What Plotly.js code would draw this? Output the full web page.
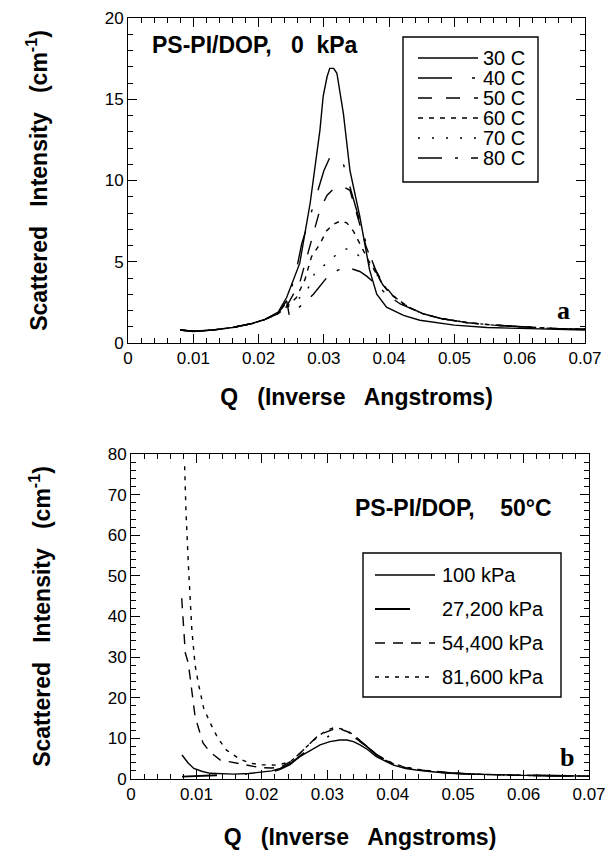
<!DOCTYPE html>
<html>
<head>
<meta charset="utf-8">
<script src="https://cdn.plot.ly/plotly-3.0.1.min.js"></script>
<style>html,body{margin:0;padding:0;background:#fff;}#chart{width:608px;height:850px;}</style>
</head>
<body>
<div id="chart"></div>
<script>
// ---------- Panel a: PS-PI/DOP, 0 kPa ----------
const q30 = [0.008,0.010,0.013,0.016,0.019,0.021,0.023,0.0243,0.0263,0.0279,0.0294,0.0299,0.0305,0.0309,0.0315,0.0320,0.033,0.034,0.0355,0.037,0.0381,0.0396,0.0422,0.0447,0.050,0.055,0.060,0.065,0.070];
const i30 = [0.8,0.7,0.8,0.95,1.2,1.45,1.9,2.8,4.9,8.6,13.1,15.2,16.4,16.9,16.9,16.6,14.1,10.6,7.8,4.5,3.0,2.2,1.7,1.4,1.1,0.95,0.9,0.85,0.8];

const q40 = [0.008,0.010,0.013,0.016,0.019,0.021,0.023,0.0245,0.0258,0.0266,0.0279,0.0291,0.0300,0.0309,0.0318,0.033,0.0345,0.0355,0.0368,0.038,0.039,0.0406,0.043,0.0452,0.048,0.052,0.056,0.060,0.065,0.070];
const i40 = [0.8,0.72,0.8,0.95,1.2,1.45,1.85,2.6,4.5,6.1,7.8,9.4,10.6,11.4,11.6,11.0,8.8,7.5,5.7,4.4,3.6,2.8,2.2,1.8,1.5,1.25,1.1,1.0,0.9,0.85];

const q50 = [0.008,0.010,0.013,0.016,0.019,0.021,0.023,0.0245,0.0263,0.0274,0.0284,0.0294,0.0305,0.0315,0.0322,0.033,0.034,0.035,0.0365,0.0378,0.039,0.0406,0.043,0.0452,0.048,0.052,0.056,0.060,0.065,0.070];
const i50 = [0.8,0.72,0.8,0.95,1.2,1.45,1.8,2.4,3.7,5.3,6.7,8.2,9.1,9.5,9.6,9.6,9.4,8.0,5.9,4.6,3.7,2.9,2.2,1.8,1.5,1.25,1.1,1.0,0.9,0.85];

const q60 = [0.008,0.010,0.013,0.016,0.019,0.021,0.023,0.0245,0.0258,0.0271,0.0281,0.0294,0.0304,0.0314,0.0325,0.0335,0.0345,0.0355,0.0368,0.038,0.039,0.0406,0.043,0.0452,0.048,0.052,0.056,0.060,0.065,0.070];
const i60 = [0.8,0.72,0.8,0.95,1.2,1.45,1.8,2.3,2.8,3.9,5.3,6.1,6.9,7.3,7.5,7.4,6.9,6.1,5.1,4.3,3.6,2.9,2.2,1.8,1.5,1.25,1.1,1.0,0.9,0.85];

const q70 = [0.008,0.010,0.013,0.016,0.019,0.021,0.023,0.0245,0.0258,0.0274,0.0286,0.0304,0.0318,0.0332,0.0345,0.0355,0.0368,0.038,0.039,0.0406,0.043,0.0452,0.048,0.052,0.056,0.060,0.065,0.070];
const i70 = [0.8,0.72,0.8,0.95,1.2,1.45,1.8,2.2,2.6,3.2,4.3,4.9,5.4,5.8,5.7,5.3,4.9,4.3,3.6,2.9,2.2,1.8,1.5,1.25,1.1,1.0,0.9,0.85];

const q80 = [0.008,0.010,0.013,0.016,0.019,0.021,0.023,0.0243,0.0247,0.0268,0.0284,0.0304,0.0322,0.034,0.0355,0.0366,0.038,0.0396,0.0417,0.0452,0.048,0.052,0.056,0.060,0.065,0.070];
const i80 = [0.8,0.72,0.8,0.95,1.2,1.45,1.85,2.6,1.7,2.4,3.0,4.0,4.5,4.6,4.4,4.1,3.6,3.0,2.4,1.8,1.5,1.25,1.1,1.0,0.9,0.85];

const tempLabels = ['30 C','40 C','50 C','60 C','70 C','80 C'];

// ---------- Panel b: PS-PI/DOP, 50 C ----------
const q100 = [0.0078,0.0087,0.0096,0.0108,0.0121,0.0140,0.0157,0.0180,0.0197,0.0215,0.0228,0.0243,0.0258,0.0274,0.0289,0.0304,0.0319,0.033,0.034,0.035,0.0362,0.0375,0.0388,0.0401,0.042,0.0436,0.046,0.0487,0.052,0.0564,0.060,0.065,0.070];
const i100 = [5.9,4.0,2.6,1.9,1.4,1.25,1.2,1.35,1.6,2.0,2.6,3.8,5.5,7.0,8.4,9.2,9.6,9.6,9.2,8.4,7.2,5.5,4.4,3.4,2.6,2.2,1.8,1.4,1.2,1.0,0.9,0.8,0.7];

const q272 = [0.0078,0.010,0.013,0.016,0.019,0.0215,0.0228,0.0243,0.0258,0.0274,0.0289,0.0304,0.0315,0.0325,0.0335,0.035,0.0362,0.0375,0.0388,0.0401,0.042,0.0436,0.046,0.0487,0.052,0.0564,0.060,0.065,0.070];
const i272 = [0.6,0.7,0.9,1.1,1.4,1.8,2.4,3.6,5.6,7.6,9.4,10.7,11.2,11.2,10.8,9.4,7.8,6.0,4.7,3.7,2.8,2.3,1.9,1.5,1.2,1.0,0.9,0.8,0.7];

const q544 = [0.00775,0.0080,0.0083,0.00876,0.0093,0.0098,0.0110,0.0121,0.0136,0.0162,0.0197,0.0215,0.0228,0.0243,0.0258,0.0274,0.0284,0.0296,0.0309,0.032,0.033,0.034,0.035,0.0362,0.0375,0.0388,0.0401,0.042,0.0436,0.046,0.0487,0.052,0.0564,0.060,0.065,0.070];
const i544 = [44.5,38,31,28.5,21,15.3,8.9,6.6,4.7,3.9,2.8,2.7,2.9,4.2,6.3,8.8,10.4,11.4,12.2,12.3,11.7,10.8,9.2,7.8,6.0,4.7,3.7,2.8,2.3,1.9,1.5,1.2,1.0,0.9,0.8,0.7];

const q816 = [0.0082,0.0084,0.00876,0.0093,0.0098,0.0103,0.0111,0.0121,0.0133,0.0146,0.0165,0.0182,0.0200,0.0223,0.0243,0.0258,0.0274,0.0289,0.0300,0.0309,0.032,0.033,0.034,0.035,0.0362,0.0375,0.0388,0.0401,0.042,0.0436,0.046,0.0487,0.052,0.0564,0.060,0.065,0.070];
const i816 = [77,66,53,36.7,28,23.5,17.5,13.8,10,7.1,5.0,3.9,3.5,3.4,4.2,6.3,8.8,10.9,12.0,12.6,12.4,11.9,10.9,9.4,7.8,6.1,4.8,3.8,2.9,2.4,1.9,1.5,1.2,1.0,0.9,0.8,0.7];

const pressLabels = ['100 kPa','27,200 kPa','54,400 kPa','81,600 kPa'];

const titleA = 'PS-PI/DOP,\u00a0\u00a0 0\u00a0 kPa';
const titleB = 'PS-PI/DOP,\u00a0\u00a0\u00a0 50°C';
const xTitle = 'Q\u00a0\u00a0 (Inverse\u00a0\u00a0 Angstroms)';
const yTitle = 'Scattered\u00a0\u00a0 Intensity\u00a0\u00a0 (cm<sup>-1</sup>)';

// ---------- build ----------
const W = 608, H = 850;
const FONT = 'Liberation Sans, Arial, sans-serif';
const SERIF = 'Liberation Serif, Times New Roman, serif';
const dashA = ['solid','34px,20px,3px,20px','14px,14px','5px,6px','2px,12px','24px,13px,3px,13px'];
const dashB = ['solid','35px,28px,2px,28px','10px,8px','4px,6px'];
const seriesA = [[q30,i30],[q40,i40],[q50,i50],[q60,i60],[q70,i70],[q80,i80]];
const seriesB = [[q100,i100],[q272,i272],[q544,i544],[q816,i816]];

const traces = [];
seriesA.forEach((s,k)=>traces.push({
  x:s[0], y:s[1], type:'scatter', mode:'lines', name:tempLabels[k],
  xaxis:'x', yaxis:'y', showlegend:false,
  line:{color:'#000', width:1.4, dash:dashA[k]}
}));
seriesB.forEach((s,k)=>traces.push({
  x:s[0], y:s[1], type:'scatter', mode:'lines', name:pressLabels[k],
  xaxis:'x2', yaxis:'y2', showlegend:false,
  line:{color:'#000', width:k===1?1.8:1.4, dash:dashB[k]}
}));

function xax(domain, anchor, titleStand){
  return {
    domain:domain, anchor:anchor, range:[0,0.07], showgrid:false, zeroline:false,
    showline:true, linecolor:'#000', mirror:'allticks',
    ticks:'inside', ticklen:9, tickcolor:'#000',
    tickmode:'linear', tick0:0, dtick:0.01,
    tickfont:{size:17},
    minor:{dtick:0.002, ticks:'inside', ticklen:5, tickcolor:'#000'},
    title:{text:xTitle, font:{family:FONT, size:23, color:'#000', weight:'bold'}, standoff:titleStand}
  };
}
function yax(domain, anchor, rng, major, minorStep){
  return {
    domain:domain, anchor:anchor, range:rng, showgrid:false, zeroline:false,
    showline:true, linecolor:'#000', mirror:'allticks',
    ticks:'inside', ticklen:9, tickcolor:'#000',
    tickmode:'linear', tick0:0, dtick:major,
    tickfont:{size:17},
    minor:{dtick:minorStep, ticks:'inside', ticklen:5, tickcolor:'#000'},
    title:{text:yTitle, font:{family:FONT, size:23, color:'#000', weight:'bold'}, standoff:50}
  };
}

const shapes = [];
const annotations = [];
function px(x){return x/W;}
function py(y){return 1-y/H;}

// legend boxes (built from the label arrays)
function addLegend(labels, dashes, widths, box, lineX0, lineX1, textX, firstY, step){
  shapes.push({type:'rect', xref:'paper', yref:'paper', x0:px(box[0]), x1:px(box[1]), y0:py(box[3]), y1:py(box[2]),
    line:{color:'#000', width:1.4}, fillcolor:'rgba(255,255,255,0)'});
  labels.forEach((lab,k)=>{
    const yy = firstY + k*step;
    shapes.push({type:'line', xref:'paper', yref:'paper', x0:px(lineX0), x1:px(lineX1), y0:py(yy), y1:py(yy),
      line:{color:'#000', width:widths[k], dash:dashes[k]}});
    annotations.push({xref:'paper', yref:'paper', x:px(textX), y:py(yy), xanchor:'left', yanchor:'middle',
      showarrow:false, text:lab, font:{family:FONT, size:20, color:'#000'}});
  });
}
addLegend(tempLabels, dashA, [1.4,1.4,1.4,1.4,1.4,1.4], [403,538,37,182], 418, 478, 481, 58, 20);
addLegend(pressLabels, dashB, [1.4,1.8,1.4,1.4], [363,561,553,697], 375, 435, 440, 575, 34);

annotations.push(
  {xref:'paper', yref:'paper', x:px(150), y:py(45), xanchor:'left', yanchor:'middle', showarrow:false,
   text:titleA, font:{family:FONT, size:23, color:'#000', weight:'bold'}},
  {xref:'paper', yref:'paper', x:px(563), y:py(310), xanchor:'center', yanchor:'middle', showarrow:false,
   text:'a', font:{family:SERIF, size:26, color:'#000', weight:'bold'}},
  {xref:'paper', yref:'paper', x:px(353), y:py(508), xanchor:'left', yanchor:'middle', showarrow:false,
   text:titleB, font:{family:FONT, size:23, color:'#000', weight:'bold'}},
  {xref:'paper', yref:'paper', x:px(567), y:py(757), xanchor:'center', yanchor:'middle', showarrow:false,
   text:'b', font:{family:SERIF, size:26, color:'#000', weight:'bold'}}
);

const layout = {
  width:W, height:H, autosize:false,
  margin:{l:0,r:0,t:0,b:0},
  paper_bgcolor:'#fff', plot_bgcolor:'#fff',
  font:{family:FONT, color:'#000'},
  showlegend:false,
  xaxis: xax([128/W, 585/W], 'y', 21),
  yaxis: yax([1-343/H, 1-18/H], 'x', [0,20], 5, 1),
  xaxis2: xax([131/W, 589/W], 'y2', 26),
  yaxis2: yax([1-779/H, 1-454/H], 'x2', [0,80], 10, 2),
  shapes: shapes,
  annotations: annotations
};

Plotly.newPlot('chart', traces, layout, {staticPlot:true, displayModeBar:false});
</script>
</body>
</html>
